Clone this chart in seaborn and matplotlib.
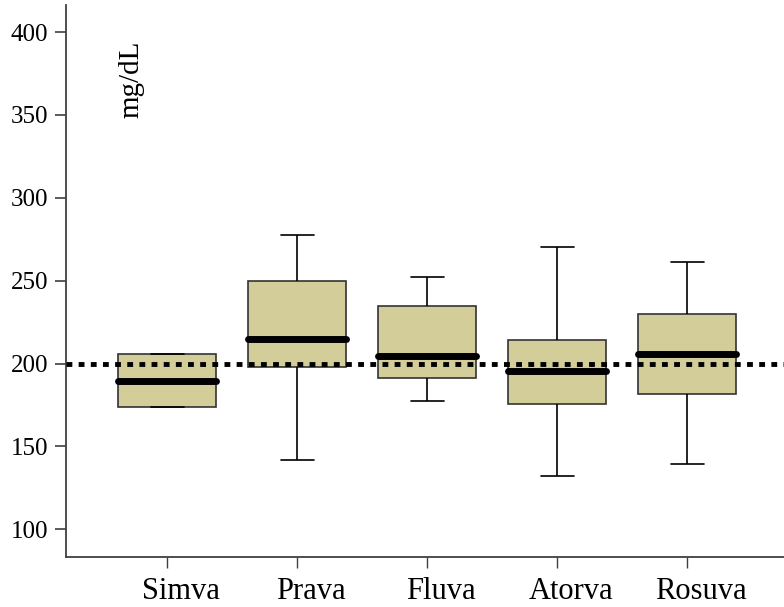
import numpy as np
import pandas as pd
import matplotlib
matplotlib.use('Agg')
import matplotlib.pyplot as plt
import matplotlib.transforms as mtransforms
import seaborn as sns

# five-number summaries (min, Q1, median, Q3, max), mg/dL
drugs = ['Simva', 'Prava', 'Fluva', 'Atorva', 'Rosuva']
simva = [174, 174, 189.5, 206, 206]
prava = [141.5, 198, 215, 250, 277.5]
fluva = [177.5, 191.5, 204.5, 234.5, 252.5]
atorva = [132, 175.5, 195.5, 214, 270.5]
rosuva = [139.5, 181.5, 206, 230, 261.5]
target = 200
yticks = [100, 150, 200, 250, 300, 350, 400]

rows = []
for name, vals in zip(drugs, [simva, prava, fluva, atorva, rosuva]):
    for v in vals:
        rows.append({'drug': name, 'value': v})
df = pd.DataFrame(rows)

sns.set_theme(style='white')
plt.rcParams['font.family'] = ['Liberation Serif', 'DejaVu Serif']

fig = plt.figure(figsize=(7.84, 6.07), dpi=100)
ax = fig.add_axes([66 / 784, 49.7 / 607, 1 - 66 / 784, 552.3 / 607])

sns.boxplot(data=df, x='drug', y='value', order=drugs, ax=ax,
            whis=np.inf, width=0.754, capwidths=0.254,
            color='#D3CE99', saturation=1, linecolor='black',
            boxprops=dict(facecolor='#D3CE99', edgecolor='#333333', linewidth=1.2),
            whiskerprops=dict(color='black', linewidth=1.2),
            capprops=dict(color='black', linewidth=1.2),
            medianprops=dict(color='black', linewidth=5, solid_capstyle='round'),
            showfliers=False, zorder=2)

ax.axhline(target, color='black', linewidth=3.5, linestyle=(0, (1.2, 1.3)), zorder=3)

ax.set_xlim(-0.777, 4.746)
ax.set_ylim(83.1, 416.3)
ax.set_yticks(yticks)
ax.set_xlabel('')
ax.set_ylabel('')

for side in ['top', 'right']:
    ax.spines[side].set_visible(False)
for side in ['left', 'bottom']:
    ax.spines[side].set_color('#404040')
    ax.spines[side].set_linewidth(1.3)

ax.tick_params(axis='y', which='major', direction='out', length=8, width=1.2,
               color='#404040', labelsize=18, pad=5, left=True)
ax.tick_params(axis='x', which='major', direction='out', length=8, width=1.0,
               color='#404040', labelsize=22, pad=6, bottom=True)

# category labels sit a little right of their ticks in the original
shift = mtransforms.ScaledTranslation(14 / 100, 0, fig.dpi_scale_trans)
for lab in ax.get_xticklabels():
    lab.set_transform(lab.get_transform() + shift)
for lab in ax.get_xticklabels() + ax.get_yticklabels():
    lab.set_color('black')

ax.text(0.0905, 0.866, 'mg/dL', transform=ax.transAxes, rotation=90,
        ha='center', va='center', fontsize=21, color='black')

fig.savefig('out.png', dpi=100)
